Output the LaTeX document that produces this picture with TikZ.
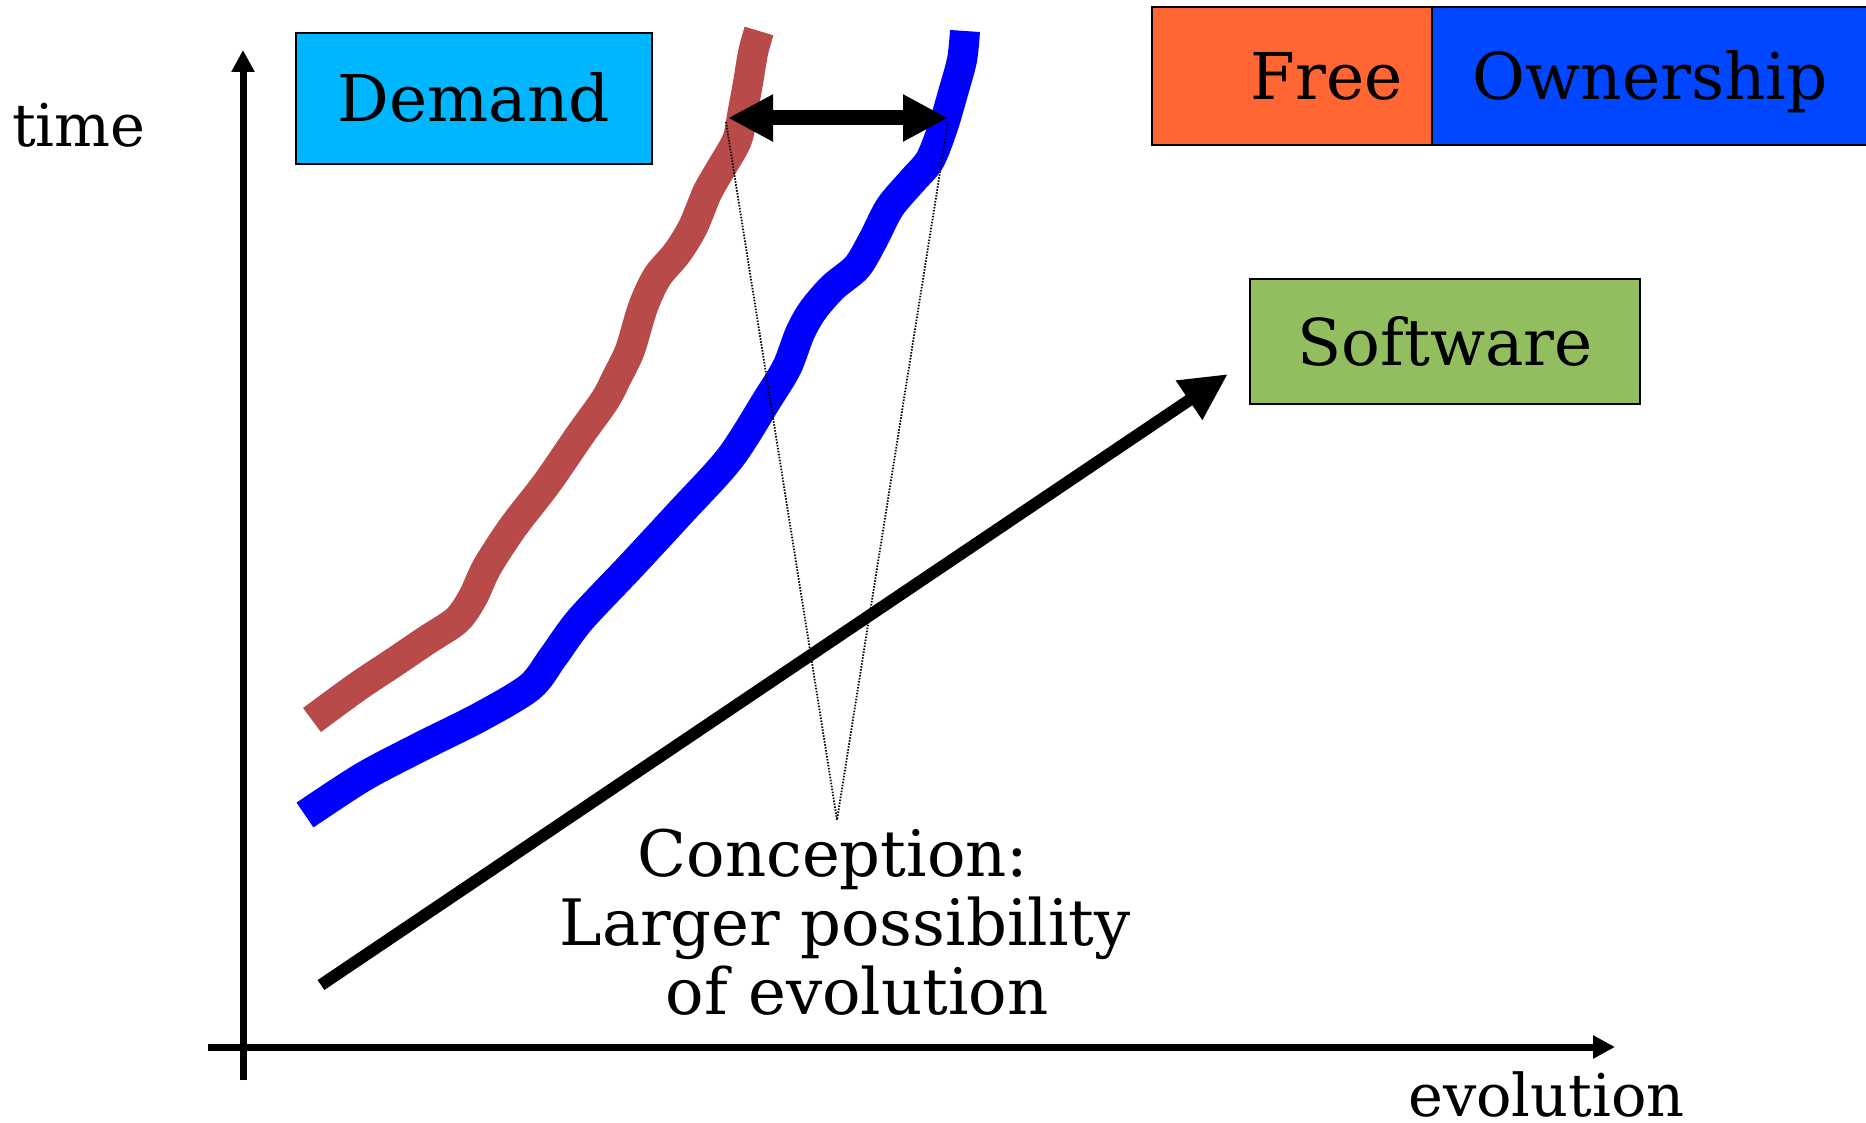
\documentclass[tikz,border=0pt]{standalone}
\usepackage{fontspec}
\setmainfont{DejaVu Serif}
\usetikzlibrary{arrows.meta}
\definecolor{demandc}{HTML}{00B7FF}
\definecolor{freec}{HTML}{FF6633}
\definecolor{ownc}{HTML}{0047FF}
\definecolor{softc}{HTML}{93BE60}
\definecolor{redc}{HTML}{B84A4A}
\definecolor{bluec}{HTML}{0000FF}
\tikzset{
  lbl/.style={font=\fontsize{64.5pt}{77pt}\selectfont, draw=black, line width=1.5pt,
    inner sep=0pt, text height=47pt, text depth=0pt, anchor=center},
  axis/.style={line width=7pt, -{Triangle[length=22pt,width=22pt]}},
  curve/.style={line width=30pt, line cap=butt, line join=round},
  axlbl/.style={font=\fontsize{59pt}{70pt}\selectfont, inner sep=0pt, anchor=base west},
}
\begin{document}
\begin{tikzpicture}[x=1pt,y=-1pt]
\useasboundingbox (0,0) rectangle (1866,1123);
\fill[white] (0,0) rectangle (1866,1123);
% axes
\coordinate (ybot) at (243,1080);
\coordinate (ytop) at (243,50);
\coordinate (xleft) at (208,1047);
\coordinate (xright) at (1615,1047);
\draw[axis] (ybot) -- (ytop);
\draw[axis] (xleft) -- (xright);
\node[axlbl] (time) at (12,147) {time};
\node[axlbl] (evo) at (1408,1116) {evolution};
% boxes
\node[lbl, fill=demandc, minimum width=356pt, minimum height=131pt] (demand) at (474,98.5) {Demand};
\node[lbl, fill=softc, minimum width=390pt, minimum height=125pt] (software) at (1445,341.5) {Software};
\node[lbl, fill=freec, minimum width=349pt, minimum height=138pt] (free) at (1326.5,76) {Free};
\node[lbl, fill=ownc, minimum width=436pt, minimum height=138pt] (own) at (1650,76) {Ownership};
% curves
\draw[curve, redc] plot[smooth, tension=0.5] coordinates {(312,720) (357,687) (393,663) (427,640) (457,620) (473,597) (487,567) (513,527) (547,483) (580,435) (605,400) (617,377) (630,350) (643,307) (657,277) (677,253) (693,227) (707,193) (720,170) (737,140) (743,110) (748,83) (753,53) (759,31)};
\draw[curve, bluec] plot[smooth, tension=0.5] coordinates {(305,815) (363,777) (420,747) (480,717) (530,687) (553,657) (580,620) (630,567) (680,513) (730,458) (767,400) (787,367) (800,333) (813,310) (833,287) (857,267) (873,240) (890,207) (913,180) (930,160) (943,127) (953,93) (962,60) (965,31)};
% big arrow
\coordinate (gs) at (321,985);
\coordinate (ge) at (1228,374);
\draw[line width=12pt, -{Triangle[length=47pt,width=44pt]}] (gs) -- (ge);
% double arrow
\coordinate (redpt) at (728,118);
\coordinate (bluept) at (948,118);
\draw[line width=15pt, {Triangle[length=45pt,width=44pt]}-{Triangle[length=45pt,width=44pt]}] (redpt) -- (bluept);
% dotted lines
\coordinate (dl) at (726,122);
\coordinate (dr) at (948,122);
\coordinate (apex) at (837,820);
\draw[line width=1.8pt, dash pattern=on 1.5pt off 1.5pt] (dl) -- (apex) -- (dr);
% conception text
\node[font=\fontsize{64pt}{69pt}\selectfont, align=center, inner sep=0pt, anchor=north] (concept) at (845,829)
  {Conception:\hspace*{24pt}\\Larger possibility\\\hspace*{24pt}of evolution};
\end{tikzpicture}
\end{document}
